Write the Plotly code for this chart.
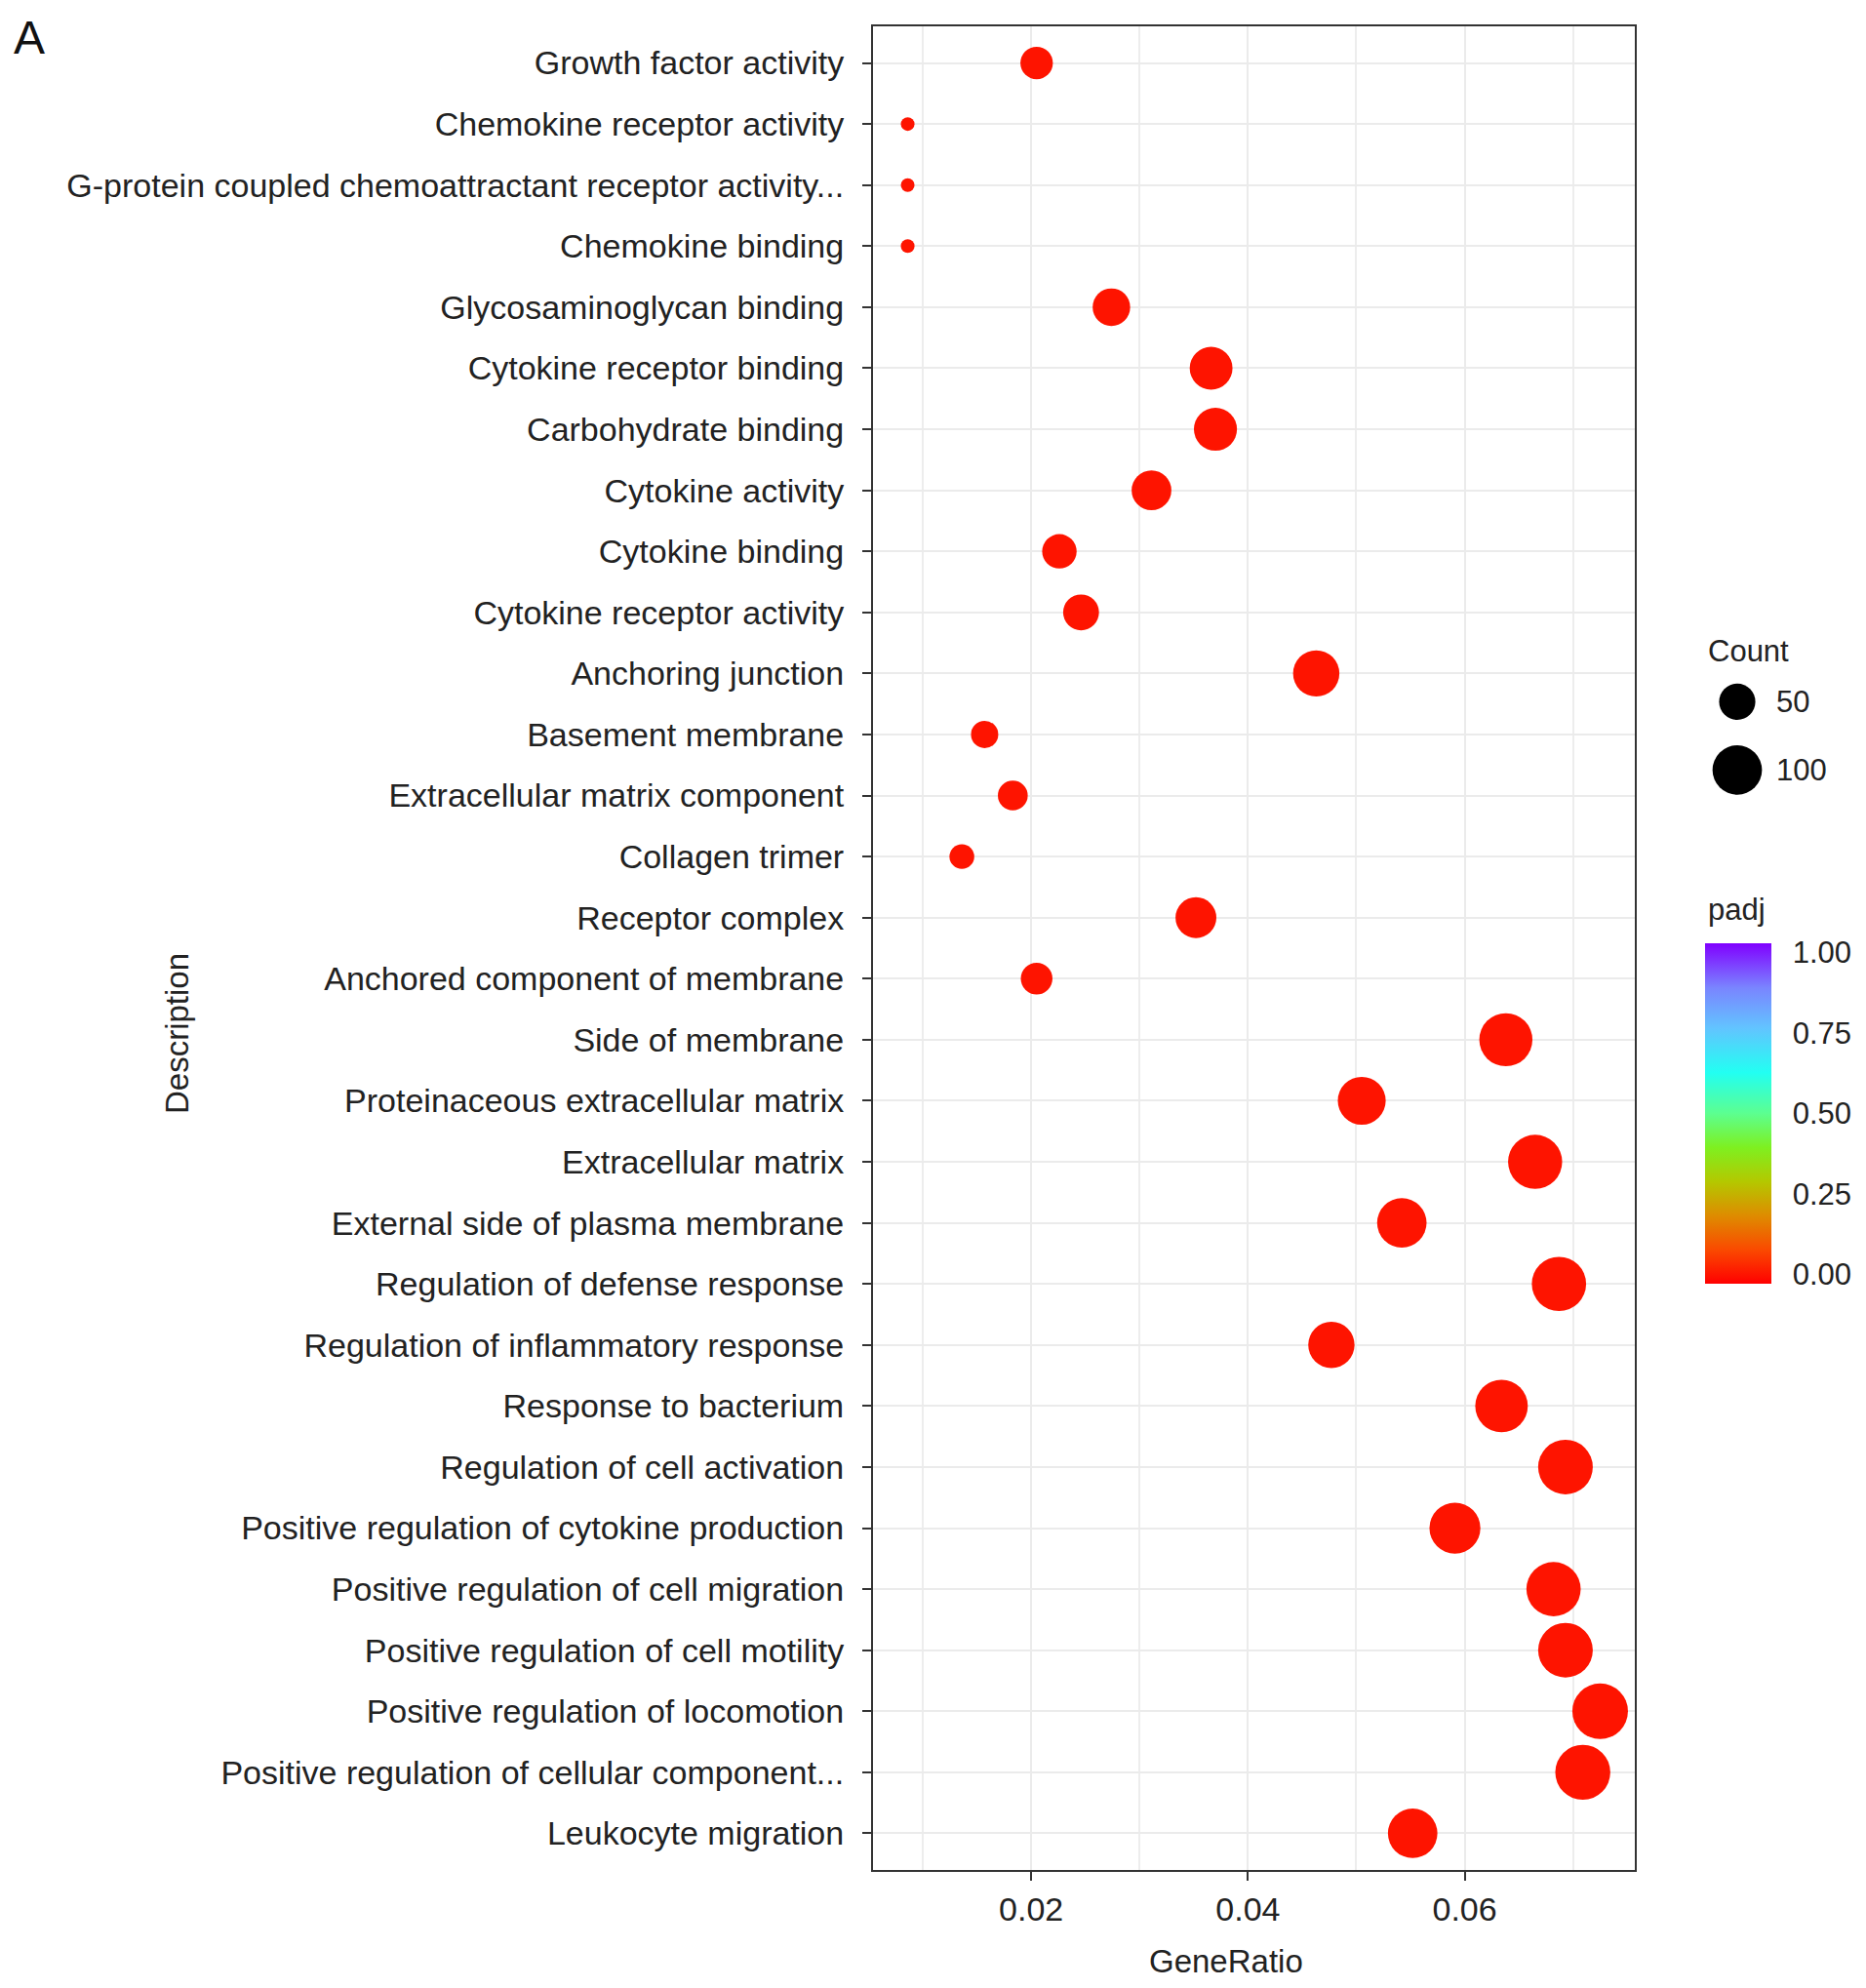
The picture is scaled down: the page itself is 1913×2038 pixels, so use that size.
import plotly.graph_objects as go

# GO terms, top to bottom as in the figure
descriptions = [
    "Growth factor activity",
    "Chemokine receptor activity",
    "G-protein coupled chemoattractant receptor activity...",
    "Chemokine binding",
    "Glycosaminoglycan binding",
    "Cytokine receptor binding",
    "Carbohydrate binding",
    "Cytokine activity",
    "Cytokine binding",
    "Cytokine receptor activity",
    "Anchoring junction",
    "Basement membrane",
    "Extracellular matrix component",
    "Collagen trimer",
    "Receptor complex",
    "Anchored component of membrane",
    "Side of membrane",
    "Proteinaceous extracellular matrix",
    "Extracellular matrix",
    "External side of plasma membrane",
    "Regulation of defense response",
    "Regulation of inflammatory response",
    "Response to bacterium",
    "Regulation of cell activation",
    "Positive regulation of cytokine production",
    "Positive regulation of cell migration",
    "Positive regulation of cell motility",
    "Positive regulation of locomotion",
    "Positive regulation of cellular component...",
    "Leukocyte migration",
]

gene_ratio = [
    0.0205, 0.0086, 0.0086, 0.0086, 0.0274, 0.0366, 0.0370, 0.0311, 0.0226, 0.0246,
    0.0463, 0.0157, 0.0183, 0.0136, 0.0352, 0.0205, 0.0638, 0.0505, 0.0665, 0.0542,
    0.0687, 0.0477, 0.0634, 0.0693, 0.0591, 0.0682, 0.0693, 0.0725, 0.0709, 0.0552,
]

counts = [
    40, 17, 17, 17, 54, 72, 73, 61, 45, 49,
    86, 29, 34, 25, 65, 38, 118, 93, 123, 100,
    124, 86, 115, 126, 107, 124, 126, 131, 128, 100,
]

padj = [
    2e-05, 1e-04, 1e-04, 1e-04, 3e-05, 1e-06, 1e-06, 2e-05, 1e-04, 5e-05,
    1e-06, 1e-04, 5e-05, 2e-04, 1e-05, 1e-04, 1e-12, 1e-10, 1e-14, 1e-11,
    1e-16, 1e-09, 1e-13, 1e-15, 1e-12, 1e-15, 1e-15, 1e-17, 1e-16, 1e-12,
]

legend_counts = [50, 100]
legend_labels = ["50", "100"]
padj_ticks = [0, 0.25, 0.5, 0.75, 1.0]
padj_ticktext = ["0.00", "0.25", "0.50", "0.75", "1.00"]
xticks = [0.02, 0.04, 0.06]
xtick_labels = ["0.02", "0.04", "0.06"]
xminor = [0.01, 0.03, 0.05, 0.07]

# ggplot-like area scale: diameter grows with sqrt of rescaled count
D_MIN, D_MAX = 14, 57
c_lo, c_hi = min(counts), max(counts)


def dot_size(c):
    t = max(c - c_lo, 0) / (c_hi - c_lo)
    return D_MIN + (D_MAX - D_MIN) * t ** 0.5


rainbow = [
    [0.0, "#FF0000"], [0.1, "#FA4A00"], [0.2, "#DE8C00"], [0.3, "#B4C800"],
    [0.4, "#7EF020"], [0.5, "#5CFF90"], [0.62, "#22FFF2"], [0.75, "#62C4FF"],
    [0.87, "#7A84FF"], [1.0, "#8000FF"],
]

font = "Liberation Sans, Arial, sans-serif"
txt = "#222222"

# the page sits a few px in from the corner, so work in shifted reference pixels
OFF = 5
W, H = 1913 - 2 * 8, 2038 - 2 * 8
L, R, T, B = 892 - OFF, 0, 24 - OFF, H - (1914 - OFF)
pw, ph = W - L - R, H - T - B


def px(x):
    return (x - OFF - L) / pw


def py(y):
    return (H - B - (y - OFF)) / ph


# colour bar box (reference pixels); ggplot pads the bar a little past 0 and 1
CB_LEFT, CB_W, CB_BOTTOM, CB_LEN = 1745, 68, 1313, 349
CB_PAD = 0.029

fig = go.Figure()

fig.add_trace(go.Scatter(
    x=gene_ratio,
    y=descriptions,
    mode="markers",
    marker=dict(
        size=[dot_size(c) for c in counts],
        color=padj,
        colorscale=rainbow,
        cmin=-CB_PAD, cmax=1 + CB_PAD,
        opacity=1,
        line=dict(width=0),
        colorbar=dict(
            tickvals=padj_ticks, ticktext=padj_ticktext,
            ticks="outside", ticklen=16, tickcolor="rgba(0,0,0,0)",
            tickfont=dict(size=31, family=font, color=txt),
            thickness=CB_W, thicknessmode="pixels",
            len=CB_LEN, lenmode="pixels",
            x=px(CB_LEFT), xanchor="left",
            y=py(CB_BOTTOM), yanchor="bottom",
            outlinewidth=0, xpad=0, ypad=0,
        ),
    ),
    showlegend=False,
))

# white tick marks on both inner edges of the colour bar
for v in padj_ticks:
    frac = (v + CB_PAD) / (1 + 2 * CB_PAD)
    yy = py(CB_BOTTOM - frac * CB_LEN)
    for x0, x1 in [(CB_LEFT, CB_LEFT + 13), (CB_LEFT + CB_W - 13, CB_LEFT + CB_W)]:
        fig.add_shape(type="line", xref="paper", yref="paper",
                      x0=px(x0), x1=px(x1), y0=yy, y1=yy,
                      line=dict(color="white", width=2))

# size legend drawn on its own small axis
fig.add_trace(go.Scatter(
    x=[0.5, 0.5],
    y=[0.74, 0.24],
    mode="markers",
    marker=dict(size=[dot_size(c) for c in legend_counts], color="black",
                opacity=1, line=dict(width=0)),
    xaxis="x2", yaxis="y2",
    showlegend=False, hoverinfo="skip",
))

for yv, lab in zip([0.74, 0.24], legend_labels):
    fig.add_annotation(x=0.79, y=yv, xref="x2", yref="y2", text=lab, showarrow=False,
                       xanchor="left", yanchor="middle",
                       font=dict(size=31, family=font, color=txt))

fig.add_annotation(x=px(1746), y=py(664), xref="paper", yref="paper", text="Count",
                   showarrow=False, xanchor="left", yanchor="middle",
                   font=dict(size=31, family=font, color=txt))
fig.add_annotation(x=px(1746), y=py(930), xref="paper", yref="paper", text="padj",
                   showarrow=False, xanchor="left", yanchor="middle",
                   font=dict(size=31, family=font, color=txt))
fig.add_annotation(x=px(178), y=py(1057), xref="paper", yref="paper", text="Description",
                   textangle=-90, showarrow=False, xanchor="center", yanchor="middle",
                   font=dict(size=33, family=font, color=txt))
fig.add_annotation(x=px(1254), y=py(2008), xref="paper", yref="paper", text="GeneRatio",
                   showarrow=False, xanchor="center", yanchor="middle",
                   font=dict(size=33, family=font, color=txt))
fig.add_annotation(x=px(9), y=py(OFF + 2), xref="paper", yref="paper", text="A",
                   showarrow=False, xanchor="left", yanchor="top",
                   font=dict(size=48, family=font, color="#111111"))

fig.update_layout(
    width=W, height=H,
    margin=dict(l=L, r=R, t=T, b=B),
    plot_bgcolor="white", paper_bgcolor="white",
    xaxis=dict(
        domain=[0, (1673 - OFF - L) / pw],
        range=[0.0054, 0.0757],
        tickvals=xticks, ticktext=xtick_labels,
        ticks="outside", ticklen=9, tickwidth=2, tickcolor="#333",
        tickfont=dict(size=34, family=font, color=txt),
        showgrid=True, gridcolor="#EBEBEB", gridwidth=2,
        minor=dict(tickvals=xminor, showgrid=True, gridcolor="#EDEDED", gridwidth=2),
        showline=True, linecolor="#333", linewidth=2, mirror=True,
        zeroline=False,
    ),
    yaxis=dict(
        type="category",
        categoryorder="array", categoryarray=descriptions,
        range=[len(descriptions) - 0.4, -0.6],
        ticks="outside", ticklen=9, tickwidth=2, tickcolor="#333",
        ticklabelstandoff=12,
        tickfont=dict(size=34, family=font, color=txt),
        showgrid=True, gridcolor="#EBEBEB", gridwidth=2,
        showline=True, linecolor="#333", linewidth=2, mirror=True,
        zeroline=False,
    ),
    xaxis2=dict(domain=[px(1713), px(1843)], range=[0, 1], visible=False, anchor="y2"),
    yaxis2=dict(domain=[py(820), py(680)], range=[0, 1], visible=False, anchor="x2"),
)

fig.write_html("out.html")
